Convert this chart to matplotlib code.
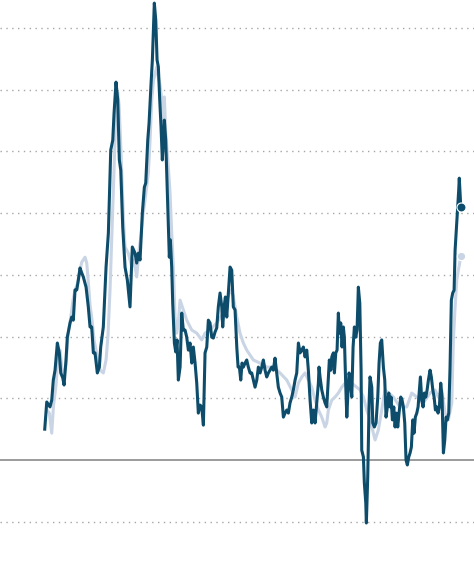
import matplotlib
matplotlib.use("Agg")
import matplotlib.pyplot as plt

# headline series (dark), year-over-year %
dark_years = [
    1965.00, 1965.28, 1965.73, 1965.97, 1966.19, 1966.43, 1966.75, 1967.02, 1967.22, 1967.50,
    1967.68, 1967.95, 1968.13, 1968.51, 1968.74, 1968.96, 1969.20, 1969.44, 1969.66, 1969.89,
    1970.13, 1970.35, 1970.73, 1971.04, 1971.28, 1971.51, 1971.74, 1971.97, 1972.29, 1972.57,
    1972.76, 1973.12, 1973.50, 1973.82, 1974.15, 1974.43, 1974.61, 1974.88, 1975.12, 1975.34,
    1975.54, 1975.81, 1976.13, 1976.45, 1976.73, 1976.82, 1977.14, 1977.52, 1977.75, 1977.98,
    1978.21, 1978.53, 1978.81, 1979.00, 1979.28, 1979.46, 1979.74, 1979.92, 1980.19, 1980.39,
    1980.57, 1980.75, 1980.94, 1981.12, 1981.30, 1981.58, 1981.77, 1981.95, 1982.13, 1982.27,
    1982.41, 1982.60, 1982.74, 1982.97, 1983.16, 1983.34, 1983.52, 1983.76, 1983.99, 1984.21,
    1984.45, 1984.68, 1984.91, 1985.14, 1985.38, 1985.60, 1985.84, 1986.07, 1986.29, 1986.53,
    1986.76, 1986.99, 1987.22, 1987.46, 1987.68, 1987.91, 1988.15, 1988.37, 1988.61, 1988.84,
    1989.06, 1989.30, 1989.54, 1989.67, 1989.86, 1990.04, 1990.23, 1990.45, 1990.69, 1990.92,
    1991.14, 1991.38, 1991.62, 1991.80, 1991.98, 1992.17, 1992.35, 1992.53, 1992.77, 1993.00,
    1993.22, 1993.46, 1993.69, 1993.92, 1994.15, 1994.39, 1994.61, 1994.85, 1995.08, 1995.30,
    1995.54, 1995.77, 1996.00, 1996.23, 1996.47, 1996.69, 1996.92, 1997.16, 1997.38, 1997.62,
    1997.85, 1998.08, 1998.31, 1998.55, 1998.77, 1999.00, 1999.24, 1999.46, 1999.70, 1999.93,
    2000.16, 2000.39, 2000.63, 2000.85, 2001.08, 2001.32, 2001.54, 2001.78, 2002.01, 2002.23,
    2002.47, 2002.70, 2002.93, 2003.02, 2003.16, 2003.40, 2003.62, 2003.86, 2004.09, 2004.31,
    2004.45, 2004.65, 2004.79, 2005.01, 2005.15, 2005.34, 2005.52, 2005.70, 2005.84, 2006.03,
    2006.21, 2006.39, 2006.53, 2006.73, 2006.87, 2007.00, 2007.18, 2007.36, 2007.56, 2007.74,
    2007.92, 2008.11, 2008.29, 2008.47, 2008.67, 2008.85, 2008.94, 2009.17, 2009.30, 2009.50,
    2009.58, 2009.77, 2009.96, 2010.09, 2010.33, 2010.47, 2010.69, 2010.92, 2011.16, 2011.34,
    2011.52, 2011.71, 2011.94, 2012.13, 2012.31, 2012.49, 2012.69, 2012.87, 2013.00, 2013.19,
    2013.38, 2013.56, 2013.74, 2013.93, 2014.11, 2014.35, 2014.53, 2014.71, 2014.90, 2015.08,
    2015.26, 2015.46, 2015.64, 2015.82, 2016.01, 2016.19, 2016.37, 2016.57, 2016.75, 2016.93,
    2017.07, 2017.26, 2017.44, 2017.62, 2017.82, 2018.00, 2018.18, 2018.41, 2018.59, 2018.79,
    2018.97, 2019.15, 2019.34, 2019.52, 2019.70, 2019.89, 2020.07, 2020.26, 2020.45, 2020.63,
    2020.81, 2021.00, 2021.18, 2021.36, 2021.55, 2021.74, 2021.88, 2022.19, 2022.38, 2022.46,
    2022.67,
]
dark_vals = [
    1.00, 1.88, 1.72, 1.94, 2.59, 2.91, 3.79, 3.47, 2.82, 2.66,
    2.43, 3.24, 3.98, 4.44, 4.63, 4.53, 5.51, 5.51, 5.83, 6.22,
    6.06, 5.93, 5.60, 4.96, 4.31, 4.31, 3.47, 3.47, 2.82, 3.01,
    3.66, 4.31, 6.25, 7.35, 10.04, 10.36, 11.24, 12.24, 11.66, 9.72,
    9.39, 7.55, 6.25, 5.83, 5.18, 4.96, 6.90, 6.70, 6.38, 6.70,
    6.48, 8.00, 8.84, 8.97, 10.36, 10.91, 12.21, 12.96, 14.80, 14.25,
    12.96, 12.73, 11.66, 10.79, 9.72, 11.01, 10.36, 8.97, 7.55, 6.57,
    7.13, 6.25, 5.08, 3.79, 3.50, 3.89, 2.59, 3.01, 4.76, 4.21,
    4.21, 3.98, 3.56, 3.79, 3.14, 3.66, 3.14, 2.49, 1.52, 1.78,
    1.72, 1.13, 3.47, 3.66, 4.53, 4.44, 3.98, 3.95, 4.15, 4.28,
    4.96, 5.41, 4.96, 4.31, 4.96, 5.28, 4.63, 5.41, 6.25, 6.15,
    4.96, 4.86, 3.66, 3.01, 3.01, 2.59, 3.14, 3.01, 3.14, 3.24,
    3.01, 2.82, 2.82, 2.59, 2.36, 2.59, 3.01, 2.82, 3.01, 3.24,
    2.91, 2.69, 2.82, 2.91, 3.01, 2.91, 3.30, 2.82, 2.36, 2.17,
    2.04, 1.39, 1.52, 1.62, 1.52, 1.85, 2.04, 2.27, 2.59, 2.82,
    3.79, 3.47, 3.56, 3.66, 3.34, 3.56, 2.91, 1.94, 1.20, 1.62,
    1.20, 1.85, 2.49, 3.01, 2.69, 2.27, 2.04, 1.85, 1.72, 2.69,
    3.24, 2.91, 3.34, 3.47, 2.82, 3.47, 3.56, 4.76, 4.11, 4.44,
    3.66, 4.31, 3.98, 2.36, 1.39, 2.04, 2.82, 2.59, 2.04, 3.66,
    4.31, 3.98, 4.21, 5.60, 5.08, 2.91, 0.32, 0.10, -0.74, -1.39,
    -2.04, -0.55, 1.85, 2.69, 2.36, 1.20, 1.07, 1.20, 2.04, 3.14,
    3.79, 3.89, 3.01, 2.59, 1.39, 1.72, 2.17, 1.72, 2.04, 1.30,
    1.72, 1.07, 1.52, 1.07, 1.52, 2.04, 1.94, 1.72, 1.20, 0.00,
    -0.16, 0.10, 0.23, 0.42, 1.30, 0.87, 1.39, 1.52, 1.72, 2.27,
    2.69, 1.94, 1.72, 2.17, 2.04, 2.27, 2.59, 2.91, 2.69, 2.27,
    2.04, 1.62, 1.72, 1.52, 1.72, 2.49, 2.04, 0.23, 0.65, 1.39,
    1.30, 1.52, 3.01, 5.18, 5.41, 5.50, 6.80, 8.00, 8.74, 9.13,
    8.19,
]

# core series (light)
light_years = [
    1965.32, 1965.64, 1965.97, 1966.22, 1966.57, 1966.84, 1967.12, 1967.40, 1967.68, 1967.95,
    1968.23, 1968.65, 1968.92, 1969.20, 1969.48, 1969.75, 1970.13, 1970.59, 1970.82, 1971.07,
    1971.28, 1971.56, 1971.83, 1972.11, 1972.39, 1972.67, 1973.12, 1973.50, 1973.77, 1974.05,
    1974.33, 1974.61, 1974.88, 1975.11, 1975.30, 1975.51, 1975.72, 1975.92, 1976.13, 1976.59,
    1977.06, 1977.38, 1977.75, 1978.07, 1978.35, 1978.62, 1978.90, 1979.36, 1979.60, 1979.83,
    1980.08, 1980.53, 1980.75, 1980.98, 1981.22, 1981.44, 1981.58, 1981.75, 1982.13, 1982.37,
    1982.60, 1982.83, 1983.06, 1983.30, 1983.55, 1983.76, 1984.21, 1984.68, 1985.38, 1986.07,
    1986.76, 1987.22, 1987.91, 1988.84, 1989.76, 1990.69, 1991.10, 1991.62, 1992.07, 1992.53,
    1993.00, 1993.92, 1994.84, 1995.77, 1996.69, 1997.62, 1998.55, 1999.24, 1999.70, 2000.16,
    2000.63, 2001.08, 2001.54, 2002.01, 2002.47, 2002.93, 2003.40, 2003.86, 2004.09, 2004.31,
    2004.79, 2005.24, 2005.70, 2006.17, 2006.63, 2007.08, 2007.56, 2008.25, 2008.71, 2009.17,
    2009.64, 2010.09, 2010.55, 2010.79, 2011.24, 2011.71, 2012.17, 2013.32, 2014.25, 2015.18,
    2015.87, 2016.57, 2017.48, 2018.41, 2019.10, 2019.56, 2020.03, 2020.49, 2020.95, 2021.42,
    2021.64, 2021.88, 2022.11, 2022.33, 2022.47, 2022.67,
]
light_vals = [
    1.62, 1.52, 0.87, 1.78, 2.43, 3.40, 3.56, 2.91, 2.75, 3.08,
    4.05, 4.70, 5.18, 5.51, 5.67, 5.99, 6.41, 6.57, 6.38, 5.67,
    5.02, 4.53, 3.89, 3.56, 3.24, 2.91, 2.82, 3.24, 4.05, 5.51,
    7.45, 9.39, 11.34, 11.92, 11.50, 10.36, 9.07, 7.77, 6.90, 6.70,
    6.25, 6.48, 5.93, 6.80, 7.29, 7.94, 8.42, 9.30, 10.36, 11.66,
    12.31, 12.73, 12.40, 12.15, 11.66, 10.04, 11.76, 10.69, 9.49, 8.65,
    7.35, 6.25, 4.63, 4.11, 4.53, 5.18, 4.86, 4.53, 4.21, 4.11,
    3.89, 4.11, 4.21, 4.44, 4.76, 5.51, 5.34, 4.63, 4.11, 3.79,
    3.56, 3.24, 3.14, 3.01, 3.01, 2.82, 2.59, 2.27, 2.04, 2.49,
    2.69, 2.82, 2.59, 2.36, 1.94, 1.62, 1.39, 1.07, 1.20, 1.62,
    1.94, 2.04, 2.17, 2.36, 2.49, 2.36, 2.49, 2.36, 2.27, 2.04,
    1.62, 1.30, 0.87, 0.65, 0.97, 1.62, 2.27, 2.04, 1.72, 1.72,
    2.17, 2.04, 1.85, 2.17, 2.27, 2.04, 2.27, 1.52, 1.30, 1.85,
    3.89, 4.96, 5.83, 6.15, 6.32, 6.61,
]

grid_vals = [-2, 2, 4, 6, 8, 10, 12, 14]

dark_color = "#0d4d6b"
light_color = "#c9d4e4"

fig = plt.figure(figsize=(4.74, 5.65), dpi=100)
ax = fig.add_axes((0, 0, 1, 1))

for g in grid_vals:
    ax.axhline(g, color="#a6a6a6", lw=1.0, linestyle=(0, (1, 3.2)), zorder=1)
ax.axhline(0, color="#808080", lw=1.1, zorder=1)

ax.plot(light_years, light_vals, color=light_color, lw=2.2, solid_joinstyle="round", zorder=2)
ax.plot(dark_years, dark_vals, color=dark_color, lw=2.2, solid_joinstyle="round", zorder=3)

ax.plot(light_years[-1], light_vals[-1], "o", ms=6, color=light_color,
        mec="white", mew=0.8, zorder=4)
ax.plot(dark_years[-1], dark_vals[-1], "o", ms=6.5, color=dark_color,
        mec="white", mew=0.8, zorder=5)

ax.set_xlim(1958.8, 2024.5)
ax.set_ylim(-3.40, 14.90)
ax.axis("off")

fig.savefig("out.png", dpi=100)
